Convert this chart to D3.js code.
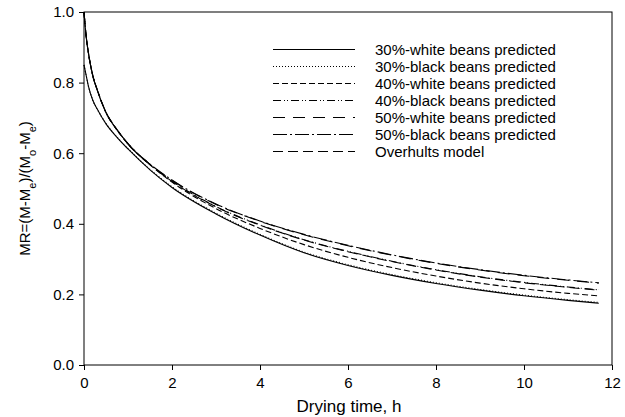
<!DOCTYPE html>
<html>
<head>
<meta charset="utf-8">
<script src="https://cdn.jsdelivr.net/npm/d3@7/dist/d3.min.js"></script>
<style>
  html, body { margin: 0; padding: 0; background: #fff; }
  svg { display: block; font-family: "Liberation Sans", Arial, sans-serif; }
</style>
</head>
<body>
<svg id="chart" width="625" height="417"></svg>
<script>
// Drying time (h) at which each moisture-ratio curve is sampled
const times = [0, 0.05, 0.1, 0.2, 0.3, 0.5, 0.75, 1, 1.5, 2, 3, 4, 5, 6, 7, 8, 9, 10, 11, 11.7];

// Moisture ratio values per series
const white30 = [0.85, 0.82, 0.79, 0.75, 0.725, 0.683, 0.645, 0.612, 0.553, 0.503, 0.428, 0.368, 0.318, 0.282, 0.254, 0.231, 0.212, 0.196, 0.183, 0.175];
const black30 = [0.85, 0.82, 0.79, 0.75, 0.725, 0.684, 0.646, 0.613, 0.554, 0.505, 0.43, 0.37, 0.32, 0.284, 0.256, 0.233, 0.214, 0.198, 0.185, 0.177];
const white40 = [1.0, 0.93, 0.885, 0.82, 0.78, 0.715, 0.666, 0.626, 0.567, 0.518, 0.443, 0.387, 0.341, 0.305, 0.276, 0.252, 0.232, 0.216, 0.203, 0.196];
const black40 = [1.0, 0.93, 0.885, 0.82, 0.78, 0.716, 0.667, 0.627, 0.568, 0.521, 0.449, 0.397, 0.355, 0.322, 0.294, 0.27, 0.25, 0.234, 0.221, 0.213];
const white50 = [1.0, 0.93, 0.884, 0.819, 0.779, 0.715, 0.666, 0.626, 0.568, 0.523, 0.455, 0.407, 0.369, 0.338, 0.311, 0.288, 0.269, 0.253, 0.24, 0.232];
const black50 = [1.0, 0.93, 0.884, 0.819, 0.779, 0.715, 0.666, 0.627, 0.569, 0.524, 0.456, 0.408, 0.37, 0.339, 0.312, 0.289, 0.27, 0.254, 0.241, 0.233];
const overhults = [1.0, 0.93, 0.885, 0.82, 0.78, 0.716, 0.667, 0.627, 0.568, 0.52, 0.448, 0.396, 0.354, 0.321, 0.293, 0.269, 0.249, 0.233, 0.22, 0.212];

const seriesNames = [
  "30%-white beans predicted",
  "30%-black beans predicted",
  "40%-white beans predicted",
  "40%-black beans predicted",
  "50%-white beans predicted",
  "50%-black beans predicted",
  "Overhults model"
];
const seriesValues = [white30, black30, white40, black40, white50, black50, overhults];
const dashes = ["none", "1,2", "6,3", "8,3,1,2,1,3", "12,8", "14,3,2,3", "10,5"];

const xTicks = [0, 2, 4, 6, 8, 10, 12];
const yTicks = [0.0, 0.2, 0.4, 0.6, 0.8, 1.0];

const svg = d3.select("#chart");
const plotLeft = 84, plotRight = 612, plotTop = 12, plotBottom = 365;

const x = d3.scaleLinear().domain([0, 12]).range([plotLeft, plotRight]);
const y = d3.scaleLinear().domain([0, 1]).range([plotBottom, plotTop]);

// Frame
svg.append("rect")
  .attr("x", plotLeft).attr("y", plotTop)
  .attr("width", plotRight - plotLeft).attr("height", plotBottom - plotTop)
  .attr("fill", "none").attr("stroke", "#000").attr("stroke-width", 1);

// Axes
const xAxis = svg.append("g")
  .attr("transform", `translate(0,${plotBottom})`)
  .call(d3.axisBottom(x).tickValues(xTicks).tickFormat(d3.format("d")).tickSize(5).tickPadding(7));
const yAxis = svg.append("g")
  .attr("transform", `translate(${plotLeft},0)`)
  .call(d3.axisLeft(y).tickValues(yTicks).tickFormat(d3.format(".1f")).tickSize(5).tickPadding(5));
[xAxis, yAxis].forEach(g => {
  g.select(".domain").remove();
  g.selectAll("line").attr("stroke", "#000");
  g.selectAll("text").attr("fill", "#000").style("font-size", "15px")
    .style("font-family", "'Liberation Sans', Arial, sans-serif");
});

// Curves
const line = d3.line()
  .x((d, i) => x(times[i]))
  .y(d => y(d))
  .curve(d3.curveMonotoneX);

const plot = svg.append("g");
seriesValues.forEach((vals, i) => {
  plot.append("path")
    .attr("d", line(vals))
    .attr("fill", "none")
    .attr("stroke", "#000")
    .attr("stroke-width", 1.1)
    .attr("stroke-dasharray", dashes[i]);
});

// Legend
const legend = svg.append("g");
seriesNames.forEach((name, i) => {
  const ly = 49.5 + i * 17;
  legend.append("line")
    .attr("x1", 273).attr("x2", 355)
    .attr("y1", ly).attr("y2", ly)
    .attr("stroke", "#000").attr("stroke-width", 1.1)
    .attr("stroke-dasharray", dashes[i]);
  legend.append("text")
    .attr("x", 375).attr("y", ly)
    .attr("dy", "0.35em")
    .style("font-size", "15px")
    .text(name);
});

// Axis titles
svg.append("text")
  .attr("x", 349).attr("y", 412)
  .attr("text-anchor", "middle")
  .style("font-size", "17px")
  .text("Drying time, h");

const yTitle = svg.append("text")
  .attr("transform", `translate(30,${(plotTop + plotBottom) / 2}) rotate(-90)`)
  .attr("text-anchor", "middle")
  .style("font-size", "15px");
yTitle.append("tspan").text("MR=(M-M");
yTitle.append("tspan").attr("baseline-shift", "sub").style("font-size", "11px").text("e");
yTitle.append("tspan").text(")/(M");
yTitle.append("tspan").attr("baseline-shift", "sub").style("font-size", "11px").text("o");
yTitle.append("tspan").text("-M");
yTitle.append("tspan").attr("baseline-shift", "sub").style("font-size", "11px").text("e");
yTitle.append("tspan").text(")");
</script>
</body>
</html>
